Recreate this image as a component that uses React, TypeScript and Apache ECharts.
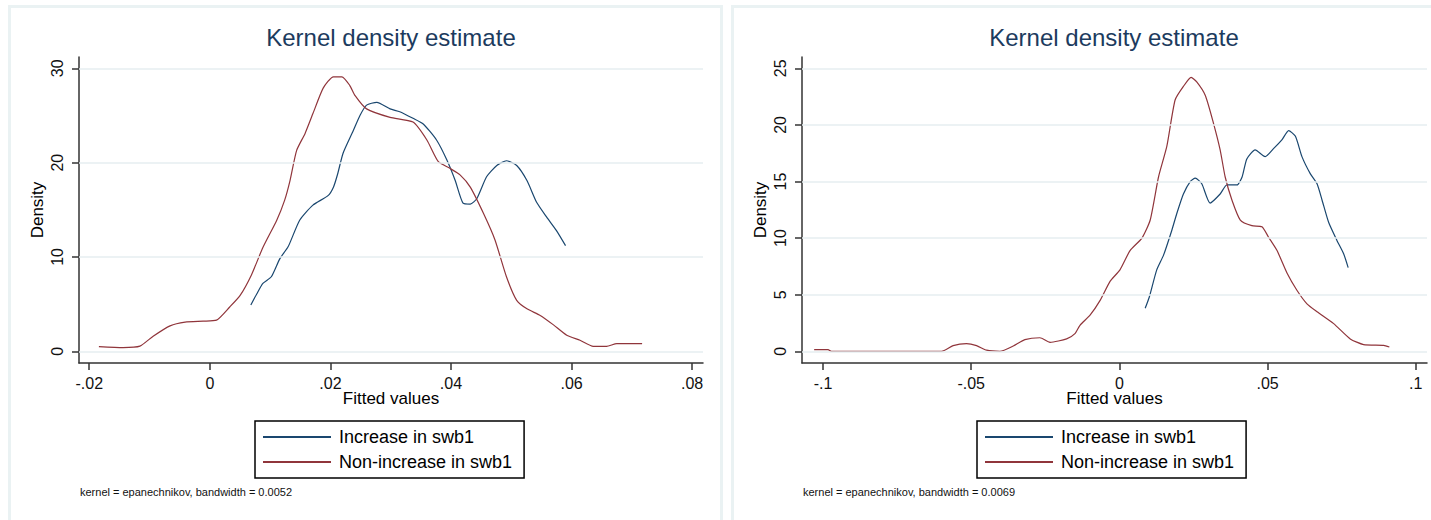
import React, { useEffect, useRef } from "react";
import * as echarts from "echarts";

// ---------- data ----------
const SERIES_NAMES = ["Increase in swb1", "Non-increase in swb1"];
const TITLE = "Kernel density estimate";
const X_NAME = "Fitted values";
const Y_NAME = "Density";
const NOTE_LEFT = "kernel = epanechnikov, bandwidth = 0.0052";
const NOTE_RIGHT = "kernel = epanechnikov, bandwidth = 0.0069";

const leftXTicks = [-0.02, 0, 0.02, 0.04, 0.06, 0.08];
const leftXLabels = ["-.02", "0", ".02", ".04", ".06", ".08"];
const leftYTicks = [0, 10, 20, 30];
const leftYLabels = ["0", "10", "20", "30"];

const rightXTicks = [-0.1, -0.05, 0, 0.05, 0.1];
const rightXLabels = ["-.1", "-.05", "0", ".05", ".1"];
const rightYTicks = [0, 5, 10, 15, 20, 25];
const rightYLabels = ["0", "5", "10", "15", "20", "25"];

const leftIncrease = [
  [0.0068, 4.9], [0.0078, 6.1], [0.0088, 7.2], [0.0102, 7.9], [0.0116, 9.8],
  [0.013, 11.1], [0.0149, 13.9], [0.0171, 15.5], [0.0196, 16.5], [0.0205, 17.4],
  [0.0212, 18.8], [0.0221, 21.0], [0.0238, 23.4], [0.0249, 25.0], [0.026, 26.1],
  [0.0277, 26.4], [0.0299, 25.7], [0.0315, 25.4], [0.0337, 24.7], [0.0354, 24.1],
  [0.0376, 22.4], [0.0393, 20.3], [0.0407, 18.1], [0.042, 15.7], [0.0432, 15.6],
  [0.0443, 16.2], [0.0459, 18.5], [0.0476, 19.7], [0.0492, 20.2], [0.0509, 19.7],
  [0.0526, 18.1], [0.0542, 15.8], [0.0559, 14.2], [0.0575, 12.8], [0.059, 11.2],
];

const leftNonIncrease = [
  [-0.0184, 0.5], [-0.0144, 0.4], [-0.0116, 0.55], [-0.0094, 1.6], [-0.0066, 2.7],
  [-0.0041, 3.1], [-0.0011, 3.2], [0.0011, 3.3], [0.0033, 4.7], [0.005, 5.9],
  [0.0069, 8.1], [0.0088, 11.0], [0.0111, 13.9], [0.0124, 16.0], [0.0133, 18.1],
  [0.0144, 21.3], [0.0158, 23.1], [0.0171, 25.2], [0.0188, 27.9], [0.0205, 29.1],
  [0.0219, 29.1], [0.0232, 28.2], [0.0241, 27.1], [0.026, 25.7], [0.0299, 24.8],
  [0.0337, 24.3], [0.036, 22.4], [0.0379, 20.1], [0.0398, 19.4], [0.0415, 18.7],
  [0.0432, 17.4], [0.0454, 14.6], [0.0473, 11.8], [0.0492, 7.9], [0.0509, 5.4],
  [0.0526, 4.5], [0.0548, 3.8], [0.057, 2.8], [0.0592, 1.7], [0.0614, 1.17],
  [0.0636, 0.53], [0.0658, 0.53], [0.0675, 0.81], [0.0717, 0.81],
];

const rightIncrease = [
  [0.0087, 3.8], [0.0101, 4.8], [0.0126, 7.2], [0.0149, 8.5], [0.0177, 10.7],
  [0.0194, 12.2], [0.0216, 13.9], [0.0239, 15.0], [0.0256, 15.3], [0.0278, 14.8],
  [0.0306, 13.1], [0.034, 13.9], [0.0363, 14.7], [0.0397, 14.7], [0.0414, 15.4],
  [0.043, 17.0], [0.0458, 17.8], [0.0492, 17.2], [0.052, 17.9], [0.0549, 18.7],
  [0.0571, 19.5], [0.0594, 19.0], [0.0616, 17.2], [0.0644, 15.7], [0.0667, 14.8],
  [0.0684, 13.35], [0.0706, 11.4], [0.0734, 9.8], [0.0757, 8.6], [0.0772, 7.4],
];

const rightNonIncrease = [
  [-0.103, 0.15], [-0.0983, 0.15], [-0.0972, 0], [-0.06, 0], [-0.0561, 0.5],
  [-0.0516, 0.68], [-0.0482, 0.5], [-0.0448, 0.1], [-0.0403, 0], [-0.0358, 0.47],
  [-0.0319, 1.03], [-0.0268, 1.2], [-0.0234, 0.8], [-0.0178, 1.1], [-0.015, 1.56],
  [-0.0133, 2.3], [-0.0099, 3.2], [-0.0065, 4.5], [-0.0031, 6.2], [0.0002, 7.2],
  [0.0036, 8.9], [0.0076, 10.0], [0.0104, 11.6], [0.0132, 15.4], [0.016, 18.1],
  [0.0188, 22.2], [0.0216, 23.4], [0.0242, 24.2], [0.0261, 23.8], [0.029, 22.6],
  [0.0318, 20.1], [0.034, 17.8], [0.0357, 15.4], [0.038, 13.35], [0.0408, 11.6],
  [0.0447, 11.1], [0.0481, 11.0], [0.0503, 10.1], [0.0532, 8.9], [0.0566, 6.9],
  [0.0599, 5.4], [0.0633, 4.2], [0.0667, 3.5], [0.0723, 2.45], [0.0779, 1.1],
  [0.0824, 0.6], [0.0892, 0.53], [0.0911, 0.38],
];

// ---------- styles ----------
const FONT = '"Liberation Sans", Arial, Helvetica, sans-serif';
const BLUE = "#1a476f";
const RED = "#90353b";
const AXIS = "#333333";
const GRIDC = "#e6eef0";
const FRAME = "#eaf2f3";
const TITLE_C = "#1c3b5e";

function labelFor(ticks: number[], labels: string[]) {
  return (v: number) => {
    let best = 0;
    for (let i = 0; i < ticks.length; i++) {
      if (Math.abs(ticks[i] - v) < Math.abs(ticks[best] - v)) best = i;
    }
    return labels[best];
  };
}

function xAxis(gi: number, min: number, max: number, ticks: number[], labels: string[]) {
  return {
    type: "value",
    gridIndex: gi,
    min,
    max,
    name: X_NAME,
    nameLocation: "middle",
    nameGap: 27,
    nameMoveOverlap: false,
    nameTextStyle: { fontSize: 17, color: "#000", fontFamily: FONT },
    axisLine: { show: true, onZero: false, lineStyle: { color: AXIS, width: 1.5 } },
    axisTick: { show: true, customValues: ticks, length: 7, lineStyle: { color: AXIS, width: 1.5 } },
    axisLabel: {
      show: true,
      customValues: ticks,
      formatter: labelFor(ticks, labels),
      fontSize: 16,
      color: "#111",
      fontFamily: FONT,
      margin: 12,
    },
    splitLine: { show: false },
  };
}

function yAxis(gi: number, min: number, max: number, ticks: number[], labels: string[]) {
  return {
    type: "value",
    gridIndex: gi,
    min,
    max,
    name: Y_NAME,
    nameLocation: "middle",
    nameGap: 33,
    nameRotate: 90,
    nameMoveOverlap: false,
    nameTextStyle: { fontSize: 17, color: "#000", fontFamily: FONT },
    axisLine: { show: true, onZero: false, lineStyle: { color: AXIS, width: 1.5 } },
    axisTick: { show: true, customValues: ticks, length: 7, lineStyle: { color: AXIS, width: 1.5 } },
    axisLabel: {
      show: true,
      customValues: ticks,
      formatter: labelFor(ticks, labels),
      rotate: 90,
      fontSize: 16,
      color: "#111",
      fontFamily: FONT,
      margin: 14,
    },
    splitLine: { show: false },
  };
}

function gridSeries(gi: number, ticks: number[]) {
  return {
    type: "line",
    name: "grid" + gi,
    xAxisIndex: gi,
    yAxisIndex: gi,
    data: [],
    silent: true,
    z: 1,
    markLine: {
      silent: true,
      symbol: "none",
      label: { show: false },
      lineStyle: { color: GRIDC, width: 1.5, type: "solid" },
      data: ticks.map((v) => ({ yAxis: v })),
    },
  };
}

function curve(gi: number, name: string, data: number[][], color: string) {
  return {
    type: "line",
    name,
    xAxisIndex: gi,
    yAxisIndex: gi,
    data,
    showSymbol: false,
    symbol: "none",
    smooth: 0.2,
    z: 3,
    lineStyle: { color, width: 1.2 },
    itemStyle: { color },
  };
}

function legend(left: number) {
  return {
    show: true,
    data: SERIES_NAMES,
    left,
    top: 421,
    orient: "vertical",
    icon: "rect",
    itemWidth: 68,
    itemHeight: 2,
    itemGap: 5,
    padding: [6, 12, 6, 8],
    borderColor: "#000",
    borderWidth: 1.5,
    backgroundColor: "#fff",
    selectedMode: false,
    textStyle: { fontSize: 18, lineHeight: 20, color: "#000", fontFamily: FONT, padding: [0, 0, 0, 3] },
  };
}

export default function App() {
  const ref = useRef<HTMLDivElement>(null);
  useEffect(() => {
    if (!ref.current) return;
    const chart = echarts.init(ref.current, null, { renderer: "svg" });
    chart.setOption({
      animation: false,
      backgroundColor: "#ffffff",
      grid: [
        { left: 79, top: 57, width: 624, height: 306 },
        { left: 802, top: 57, width: 625, height: 306 },
      ],
      xAxis: [
        xAxis(0, -0.0217, 0.0818, leftXTicks, leftXLabels),
        xAxis(1, -0.1071, 0.1038, rightXTicks, rightXLabels),
      ],
      yAxis: [
        yAxis(0, -1.24, 31.2, leftYTicks, leftYLabels),
        yAxis(1, -1.03, 26.0, rightYTicks, rightYLabels),
      ],
      legend: [legend(255), legend(977)],
      series: [
        gridSeries(0, leftYTicks),
        gridSeries(1, rightYTicks),
        curve(0, SERIES_NAMES[0], leftIncrease, BLUE),
        curve(0, SERIES_NAMES[1], leftNonIncrease, RED),
        curve(1, SERIES_NAMES[0], rightIncrease, BLUE),
        curve(1, SERIES_NAMES[1], rightNonIncrease, RED),
      ],
      graphic: [
        {
          type: "rect",
          silent: true,
          z: -10,
          shape: { x: 9.5, y: 6.5, width: 712, height: 600 },
          style: { fill: "none", stroke: FRAME, lineWidth: 3 },
        },
        {
          type: "rect",
          silent: true,
          z: -10,
          shape: { x: 732.5, y: 6.5, width: 800, height: 600 },
          style: { fill: "none", stroke: FRAME, lineWidth: 3 },
        },
        {
          type: "text",
          x: 391,
          y: 37,
          style: {
            text: TITLE,
            fontSize: 24,
            fontFamily: FONT,
            fill: TITLE_C,
            textAlign: "center",
            textVerticalAlign: "middle",
          },
        },
        {
          type: "text",
          x: 1114,
          y: 37,
          style: {
            text: TITLE,
            fontSize: 24,
            fontFamily: FONT,
            fill: TITLE_C,
            textAlign: "center",
            textVerticalAlign: "middle",
          },
        },
        {
          type: "text",
          x: 80,
          y: 492,
          style: {
            text: NOTE_LEFT,
            fontSize: 11,
            fontFamily: FONT,
            fill: "#111",
            textAlign: "left",
            textVerticalAlign: "middle",
          },
        },
        {
          type: "text",
          x: 803,
          y: 492,
          style: {
            text: NOTE_RIGHT,
            fontSize: 11,
            fontFamily: FONT,
            fill: "#111",
            textAlign: "left",
            textVerticalAlign: "middle",
          },
        },
      ],
    });
    return () => chart.dispose();
  }, []);
  return (
    <div
      ref={ref}
      style={{ position: "absolute", left: 0, top: 0, width: 1431, height: 520, background: "#fff" }}
    />
  );
}
